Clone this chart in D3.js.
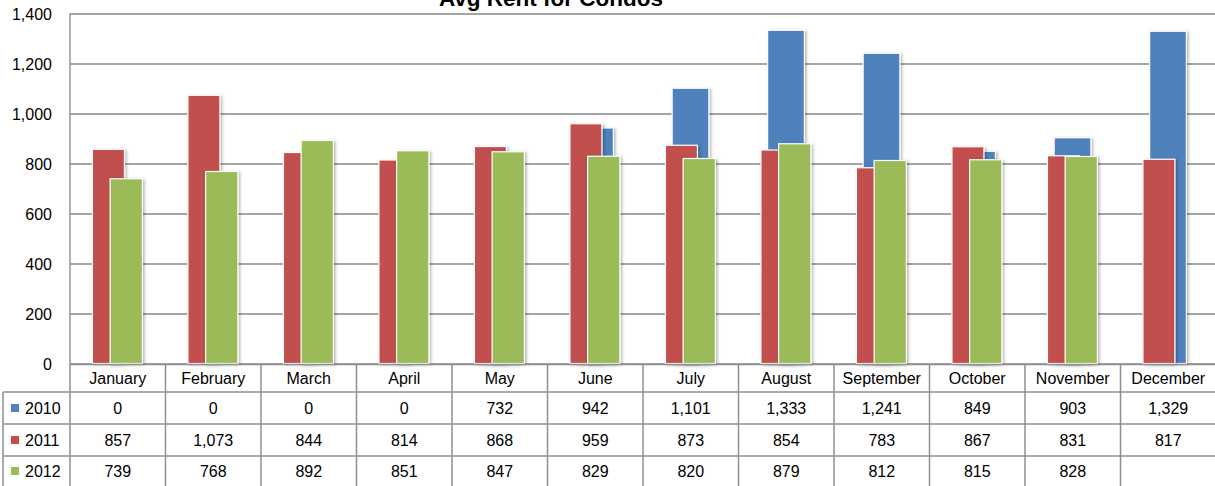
<!DOCTYPE html>
<html>
<head>
<meta charset="utf-8">
<script src="https://cdn.jsdelivr.net/npm/d3@7/dist/d3.min.js"></script>
<style>
    body { margin: 0; background: #fff; }
    svg { display: block; font-family: "Liberation Sans", Arial, sans-serif; }
    .grid line { stroke: #878787; stroke-width: 1.3px; }
    .grid .domain { stroke: #878787; stroke-width: 1.3px; }
    .grid text { font-size: 16px; fill: #000; }
    .table-line { stroke: #8f8f8f; stroke-width: 1.5px; }
    .cell { font-size: 16px; fill: #000; text-anchor: middle; }
</style>
</head>
<body>
<div id="chart"></div>
<script>

// Data (Excel chart with data table)
var months = ["January", "February", "March", "April", "May", "June",
    "July", "August", "September", "October", "November", "December"];
var years = ["2010", "2011", "2012"];
var rent2010 = [0, 0, 0, 0, 732, 942, 1101, 1333, 1241, 849, 903, 1329];
var rent2011 = [857, 1073, 844, 814, 868, 959, 873, 854, 783, 867, 831, 817];
var rent2012 = [739, 768, 892, 851, 847, 829, 820, 879, 812, 815, 828, null];
var yTicks = [0, 200, 400, 600, 800, 1000, 1200, 1400];

var colors = ["#4F81BD", "#C0504D", "#9BBB59"];

// offset / width of each series inside a category, as a share of the band
var seriesLayout = [
    {offset: 0.305, width: 0.385},   // 2010 sits behind, a bit wider
    {offset: 0.235, width: 0.335},
    {offset: 0.42,  width: 0.338}
];

var series = [rent2010, rent2011, rent2012].map(function(values, i) {
    return {
        year: years[i],
        color: colors[i],
        layout: seriesLayout[i],
        values: values.map(function(v, j) { return {month: months[j], value: v}; })
    };
});

var width = 1215, height = 486;
var plot = {left: 70, top: 13.5, bottom: 363.5, bandWidth: 95.5};
var rowTop = [364.5, 392, 424, 456, 488];

var svg = d3.select("#chart").append("svg")
    .attr("width", width)
    .attr("height", height);

var defs = svg.append("defs");
var shadow = defs.append("filter")
    .attr("id", "shadow")
    .attr("x", "-20%").attr("y", "-5%")
    .attr("width", "150%").attr("height", "115%");
shadow.append("feDropShadow")
    .attr("dx", 1.5).attr("dy", 1)
    .attr("stdDeviation", 1.4)
    .attr("flood-color", "#000")
    .attr("flood-opacity", 0.3);

var x = d3.scaleBand()
    .domain(months)
    .range([plot.left, plot.left + plot.bandWidth * months.length])
    .paddingInner(0)
    .paddingOuter(0);

var y = d3.scaleLinear()
    .domain([0, 1400])
    .range([plot.bottom, plot.top]);

// gridlines + y labels
var yAxis = d3.axisLeft(y)
    .tickValues(yTicks)
    .tickFormat(d3.format(","))
    .tickSizeInner(-(width - plot.left))
    .tickSizeOuter(0)
    .tickPadding(18);

svg.append("g")
    .attr("class", "grid")
    .attr("transform", "translate(" + plot.left + ",0)")
    .call(yAxis)
    .call(function(g) {
        g.select(".domain").attr("d", "M0," + plot.top + "V" + (rowTop[0]));
        g.selectAll(".tick text").attr("x", -18).attr("dy", "0.35em");
    });

// bars: 2010 drawn first, 2012 on top
var bw = x.bandwidth();
var groups = svg.selectAll(".series")
    .data(series)
    .enter()
    .append("g")
    .attr("class", "series")
    .attr("fill", function(d) { return d.color; });

groups.each(function(s) {
    d3.select(this).selectAll("rect")
        .data(s.values.filter(function(d) { return d.value; }))
        .enter()
        .append("rect")
        .attr("x", function(d) { return x(d.month) + s.layout.offset * bw; })
        .attr("width", s.layout.width * bw)
        .attr("y", function(d) { return y(d.value); })
        .attr("height", function(d) { return y(0) - y(d.value); })
        .attr("stroke", "#fff")
        .attr("stroke-width", 1.2)
        .attr("filter", "url(#shadow)");
});

// title (partly cut off at the top, as in the reference)
svg.append("text")
    .attr("x", 551)
    .attr("y", 6)
    .attr("text-anchor", "middle")
    .style("font-size", "22.5px")
    .style("font-weight", "bold")
    .text("Avg Rent for Condos");

// data table
var table = svg.append("g").attr("class", "data-table");
var right = x.range()[1];

table.append("line").attr("class", "table-line")
    .attr("x1", plot.left).attr("x2", right)
    .attr("y1", rowTop[0]).attr("y2", rowTop[0]);

rowTop.slice(1, 4).forEach(function(yy) {
    table.append("line").attr("class", "table-line")
        .attr("x1", 3).attr("x2", right)
        .attr("y1", yy).attr("y2", yy);
});

table.append("line").attr("class", "table-line")
    .attr("x1", 3).attr("x2", 3)
    .attr("y1", rowTop[1]).attr("y2", height);

months.concat(["_end"]).forEach(function(m, i) {
    var xx = plot.left + i * bw;
    table.append("line").attr("class", "table-line")
        .attr("x1", xx).attr("x2", xx)
        .attr("y1", rowTop[0]).attr("y2", height);
});

table.selectAll(".head")
    .data(months)
    .enter()
    .append("text")
    .attr("class", "cell")
    .attr("x", function(d) { return x(d) + bw / 2; })
    .attr("y", (rowTop[0] + rowTop[1]) / 2)
    .attr("dy", "0.36em")
    .text(function(d) { return d; });

series.forEach(function(s, i) {
    var cy = (rowTop[i + 1] + rowTop[i + 2]) / 2;
    if (i == 2) cy = 471;

    table.append("rect")
        .attr("x", 11).attr("y", cy - 4)
        .attr("width", 8).attr("height", 8)
        .attr("fill", s.color);

    table.append("text")
        .attr("class", "cell")
        .attr("x", 25)
        .attr("y", cy)
        .attr("dy", "0.36em")
        .style("text-anchor", "start")
        .text(s.year);

    table.selectAll(".v" + s.year)
        .data(s.values.filter(function(d) { return d.value != null; }))
        .enter()
        .append("text")
        .attr("class", "cell")
        .attr("x", function(d) { return x(d.month) + bw / 2; })
        .attr("y", cy)
        .attr("dy", "0.36em")
        .text(function(d) { return d3.format(",")(d.value); });
});

</script>
</body>
</html>
